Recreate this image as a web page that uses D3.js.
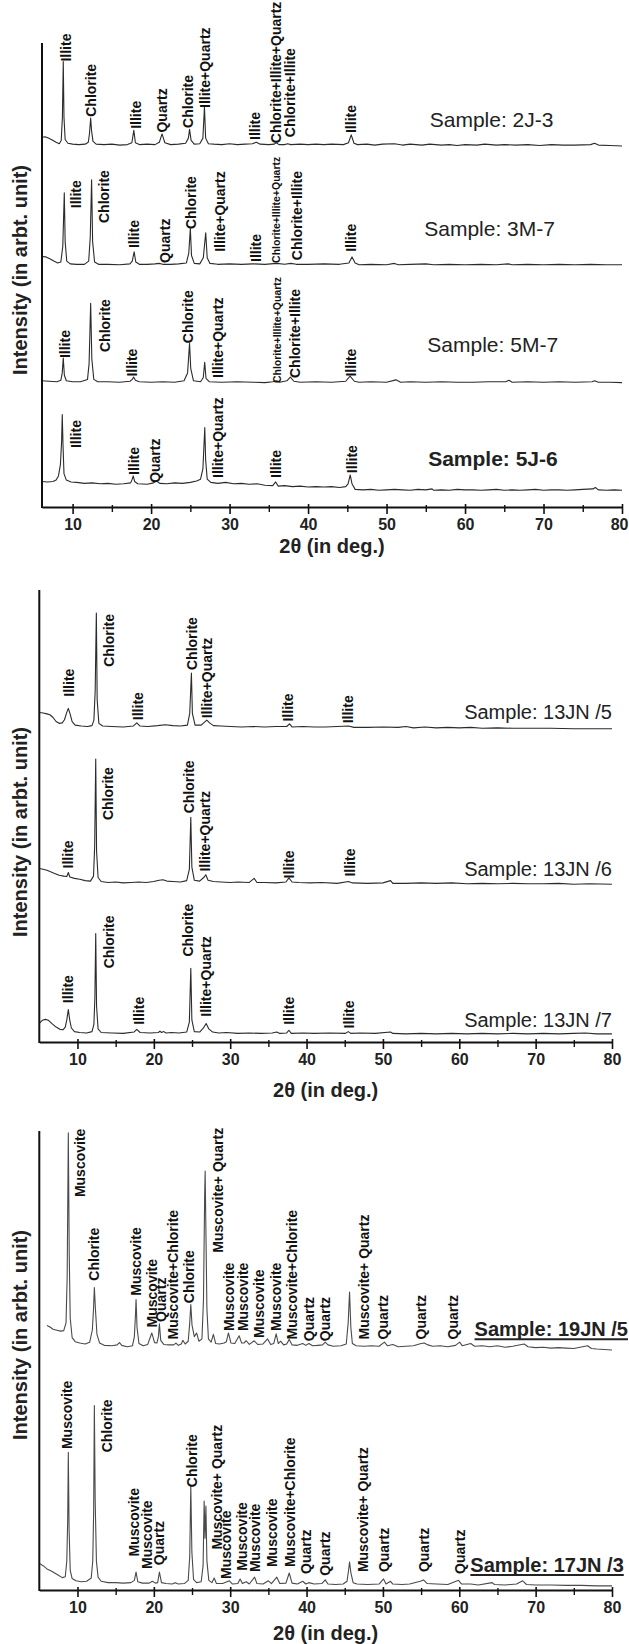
<!DOCTYPE html>
<html>
<head>
<meta charset="utf-8">
<script src="https://cdn.jsdelivr.net/npm/d3@7"></script>
<style>
  body { margin: 0; background: #fff; }
  svg { display: block; font-family: "Liberation Sans", Arial, sans-serif; }
</style>
</head>
<body>
<svg id="chart" width="629" height="1644"></svg>
<script>
// ---- data: [2theta, intensity above the trace baseline] ----
var s2J3 = [[6.1,1.7],[6.5,1.8],[6.9,1.5],[7.4,1.1],[7.9,0.6],[8.3,0.3],[8.55,1],[8.7,6],[8.81,18],[8.9,6],[9.05,1.2],[9.4,0.4],[10,0.2],[10.8,0.1],[11.6,0.2],[12,0.6],[12.15,2.5],[12.3,5.8],[12.42,3],[12.6,0.8],[13,0.2],[14,0.1],[15,0.2],[16,0],[17,0.1],[17.55,0.5],[17.8,3.2],[18,0.5],[18.5,0.1],[19.5,0.2],[20.5,0.1],[21.05,0.6],[21.4,2.4],[21.75,0.5],[22.5,0.1],[23.5,0.2],[24.4,0.4],[24.75,1.5],[24.9,3.4],[25.1,1],[25.5,0.2],[26.2,0.3],[26.6,1.5],[26.8,8.2],[26.95,1.5],[27.3,0.3],[28,0.2],[29,0.1],[30,0.3],[31,0.1],[32,0.2],[32.9,0.3],[33.4,0.6],[33.9,0.2],[35,0.1],[35.7,0.2],[35.96,0.5],[36.3,0.1],[37,0.1],[37.4,0.3],[37.8,0.1],[39,0.2],[40,0.1],[41,0.2],[42,0.1],[43,0.2],[44.5,0.1],[45.15,0.5],[45.5,2.2],[45.85,0.4],[46.3,0.1],[47.5,0.2],[48.5,0],[49.5,0.2],[51,0.3],[52,0],[53,0.2],[54.5,0],[55.5,0.2],[57,0],[58,0.1],[59,-0.1],[60,0.1],[61.5,0],[62.5,0.2],[64,0],[65,0.1],[66.5,0],[68,0.1],[69.5,-0.1],[71,0.1],[72.5,0],[74,0],[76,0.1],[76.5,0.4],[77,0],[78.5,-0.1],[80,-0.2]];
var s3M7 = [[6.1,1.8],[6.6,1.7],[7.1,1.3],[7.6,0.8],[8.1,0.4],[8.5,0.6],[8.75,4],[8.94,15.5],[9.05,5],[9.25,0.8],[9.7,0.2],[10.5,0.1],[11.5,0.1],[12.05,0.8],[12.25,6],[12.42,18.3],[12.55,5],[12.8,0.6],[13.3,0.1],[14.5,0.1],[16,0],[17.3,0.2],[17.6,0.8],[17.84,2.8],[18.05,0.6],[18.5,0.1],[19.5,0.1],[20.5,0.2],[21,0.3],[21.5,0.1],[22.5,0.1],[23.5,0.2],[24.5,0.4],[24.8,2.5],[25,7.8],[25.15,2],[25.5,0.3],[26.2,0.2],[26.65,1.5],[26.96,6.9],[27.15,1.5],[27.5,0.3],[28.5,0.1],[30,0.2],[31.5,0.1],[33,0.2],[34.5,0.1],[36,0.3],[37,0.1],[37.8,0.3],[38.5,0.1],[40,0.1],[42,0.2],[44,0.1],[45.2,0.4],[45.6,1.7],[46,0.4],[46.5,0],[48,0.1],[50,0],[51,0.3],[51.5,0],[53,0.1],[55,0.2],[56,0],[58,0.1],[60,0],[62,0.1],[64,0],[65.5,0.2],[66,0],[68,0.1],[70,0],[72,0.1],[74,0],[76,0.1],[78,0],[80,0]];
var s5M7 = [[6.1,0.3],[7,0.2],[8,0.1],[8.5,0.4],[8.68,2],[8.81,5.2],[8.95,1.5],[9.2,0.3],[10,0.1],[11,0.1],[11.9,0.6],[12.1,4],[12.3,17],[12.45,5],[12.7,0.6],[13.2,0.1],[14.5,0.1],[16,0],[17.3,0.2],[17.6,0.6],[17.78,1.1],[18,0.4],[18.5,0.1],[20,0],[21.5,0.1],[23,0],[24.2,0.3],[24.65,2],[24.9,8.4],[25.05,3],[25.4,0.3],[26.3,0.1],[26.65,1],[26.83,4.3],[27,0.8],[27.4,0.1],[29,0],[31,0.1],[33,0],[34.5,-0.1],[35.5,0.1],[36,0.3],[36.4,0],[37.3,0.3],[37.74,1.1],[38.2,0.2],[39,0],[41,0.1],[43,0],[44.8,0.2],[45.35,1.3],[45.9,0.2],[46.5,0],[48,0.1],[50,0],[51.2,0.5],[51.8,0],[53,0.1],[55,0],[57,0.1],[59,0],[61,0],[63,0.1],[65.2,0.1],[65.6,0.4],[66,0],[68,0.1],[70,0],[72,0.1],[74,0],[76.2,0.1],[76.5,0.3],[77,0],[78.5,0],[80,-0.1]];
var s5J6 = [[6.1,0.3],[6.8,0.2],[7.5,0.3],[7.9,0.6],[8.2,1.5],[8.45,4],[8.6,9],[8.68,14.7],[8.78,8],[8.9,2],[9.2,0.6],[9.8,0.2],[10.5,0.1],[11.5,-0.1],[12.5,0],[13.5,-0.2],[14.5,-0.1],[15.5,-0.3],[16.5,-0.2],[17.4,0],[17.6,0.8],[17.72,1.5],[17.9,0.3],[18.3,-0.2],[19.5,-0.3],[20.3,0],[20.69,0.4],[21.1,-0.1],[22,-0.2],[23,0],[24,-0.1],[25,0.1],[25.8,0.4],[26.3,0.8],[26.6,3],[26.84,11.9],[26.95,5],[27.15,0.8],[27.6,0.1],[28.5,-0.1],[29.5,0.1],[30.5,-0.2],[31.5,-0.1],[32.5,-0.3],[33.5,-0.2],[34.5,-0.5],[35.5,-0.6],[35.87,0.2],[36.2,-0.7],[37,-0.6],[38,-0.8],[39,-0.7],[40,-0.9],[41,-0.8],[42,-0.9],[43,-0.8],[44,-1],[44.8,-0.8],[45.1,-0.2],[45.37,1.7],[45.6,-0.2],[46,-1.4],[47,-1.5],[48,-1.4],[49,-1.6],[50,-1.5],[51,-1.4],[52,-1.5],[53,-1.6],[54,-1.4],[55,-1.5],[55.8,-1.3],[56,-1.6],[57,-1.5],[58,-1.6],[59,-1.4],[60,-1.5],[61,-1.5],[62,-1.6],[63,-1.5],[64,-1.4],[65,-1.6],[66,-1.5],[67,-1.6],[68,-1.5],[69,-1.4],[70,-1.6],[71,-1.5],[72,-1.5],[73,-1.6],[74,-1.5],[75,-1.4],[76.3,-1.3],[76.6,-1],[77,-1.5],[78,-1.6],[79,-1.5],[80,-1.6]];

var s13JN5 = [[5,3.2],[5.5,3.1],[6,2.9],[6.4,2.7],[6.8,2.1],[7.2,1.2],[7.6,0.8],[8,0.9],[8.3,1.6],[8.55,3],[8.8,4.1],[9.05,2.8],[9.3,1.2],[9.7,0.4],[10.5,0.2],[11.3,0.1],[11.9,0.3],[12.15,1.5],[12.32,8],[12.47,25.2],[12.58,6],[12.8,0.8],[13.3,0.2],[14.5,0.1],[16,0],[17.3,0.2],[17.77,0.9],[18.2,0.2],[19.2,0.1],[20.5,0.3],[21.5,0.5],[22.5,0.3],[23.5,0.2],[24.4,0.4],[24.7,3],[24.92,11.9],[25.05,3],[25.4,0.4],[26.2,0.4],[26.6,1],[26.94,1.5],[27.3,0.9],[27.8,0.3],[28.8,0.2],[30,0.1],[31.5,0],[33,0.1],[34.5,0],[36,0.1],[37.4,0.1],[37.77,0.7],[38.1,0],[39.5,0.1],[41,0],[42.5,0],[44,0.1],[45.5,0.2],[46.2,-0.1],[48,-0.1],[50,0],[52,-0.1],[53,0.1],[54,-0.2],[55.5,0],[57,-0.2],[58.5,-0.1],[60,-0.2],[61.5,-0.1],[63,-0.3],[65,-0.2],[67,-0.3],[69,-0.3],[72,-0.3],[75,-0.4],[80,-0.4]];
var s13JN6 = [[5,3.2],[5.5,3],[6,2.8],[6.4,2.5],[7,2.1],[7.6,1.7],[8.2,1.5],[8.6,1.4],[8.8,2.3],[9,1.3],[9.6,1],[10.3,0.8],[11,0.5],[11.7,0.4],[12.1,1.5],[12.25,8],[12.39,27.4],[12.5,7],[12.7,1.2],[13.1,0.3],[14,0.1],[15,0.2],[16,0],[17,0.1],[18,0.2],[19,0.1],[20,0.3],[20.7,0.6],[21.2,0.7],[21.7,0.4],[22.5,0.3],[23.5,0.2],[24.3,0.5],[24.65,3],[24.84,14.5],[24.98,3.5],[25.3,0.6],[26,0.4],[26.6,1.3],[26.8,1.8],[27.1,0.6],[27.8,0.3],[28.8,0.2],[30,0.1],[31,0.2],[32.5,0.1],[33.14,1],[33.5,0.1],[34.5,0.1],[36,0],[37.3,0.2],[37.69,1.1],[38.1,0.2],[39,0.1],[40.5,0],[42,0.1],[44,-0.1],[45.5,0.3],[46,0],[48,-0.1],[50,0],[51,0.5],[51.3,-0.1],[53,-0.1],[55,0],[57,-0.1],[59,0],[61,-0.2],[63,-0.1],[65,-0.2],[67,-0.1],[69,-0.2],[71,-0.2],[73,-0.1],[75,-0.3],[77,-0.2],[80,-0.3]];
var s13JN7 = [[5,2.2],[5.4,2.9],[5.8,3.1],[6.2,2.9],[6.7,2.1],[7.2,1.4],[7.7,0.9],[8.1,0.8],[8.4,1.4],[8.6,3],[8.8,5.3],[8.98,3],[9.2,1.2],[9.6,0.4],[10.3,0.2],[11.2,0.1],[11.9,0.4],[12.15,2],[12.28,8],[12.39,22.1],[12.5,6],[12.7,1],[13.1,0.2],[14.5,0.1],[16,0],[17.4,0.3],[17.77,0.9],[18.2,0.2],[19.5,0.1],[20.6,0.2],[20.8,0.5],[21,0.2],[21.3,0.4],[21.6,0.1],[22.3,0.2],[23.3,0.1],[24.3,0.3],[24.65,2.5],[24.84,14.4],[24.98,3],[25.3,0.4],[26,0.3],[26.5,1.2],[26.85,2.2],[27.2,1],[27.7,0.3],[28.5,0.1],[29.5,0.2],[31,0],[32.5,0.1],[34,0],[35.5,0.1],[36.1,0.3],[36.5,0],[37.4,0.1],[37.69,0.7],[38,0],[39.5,0.1],[41,0],[43,0.1],[45.1,0],[45.46,0.4],[45.8,0],[47,0.1],[49,0],[51,0.3],[51.3,0],[53,-0.1],[55,0],[57,-0.1],[59,0],[61,-0.1],[63,0],[65,-0.1],[67,0],[69,-0.1],[71,0],[73,-0.1],[75,0],[76.5,0.1],[78,-0.1],[80,-0.1]];

var s19JN5 = [[6,4.4],[6.4,4.1],[6.8,3.6],[7.3,3.4],[7.8,3.2],[8.2,3.3],[8.5,5],[8.65,15],[8.8,46.4],[8.92,20],[9.05,6],[9.3,1.8],[9.7,0.9],[10.3,0.6],[11,0.4],[11.6,0.8],[11.95,3.5],[12.1,8],[12.21,12.7],[12.35,8],[12.55,2.5],[12.9,0.6],[13.5,0.1],[14.5,0],[15.2,0.2],[15.5,0.7],[15.8,0.1],[16.5,-0.2],[17.2,0],[17.45,2],[17.6,7],[17.67,10.1],[17.8,4],[18.05,0.5],[18.6,0],[19.2,0.3],[19.73,2.8],[20.1,0.7],[20.4,0.6],[20.6,2],[20.73,4.8],[20.9,1.2],[21.3,0.3],[22,0.2],[22.6,0.2],[22.9,0.6],[23.2,0.1],[23.6,0.4],[23.8,1.2],[24.1,0.4],[24.5,1],[24.7,5],[24.84,9],[25,4.5],[25.3,2],[25.6,2.8],[25.9,1],[26.3,1.5],[26.5,10],[26.65,32],[26.72,38.1],[26.82,25],[26.95,8],[27.15,1.5],[27.5,0.8],[27.8,2.5],[28.1,0.5],[28.6,0.4],[29.2,0.6],[29.5,0.9],[29.77,2.8],[30.1,0.6],[30.6,0.5],[31.17,2.2],[31.5,0.6],[31.8,0.6],[32.1,1.1],[32.5,0.3],[33.14,1.1],[33.6,0.3],[34.3,0.4],[34.9,1.5],[35.3,0.3],[35.7,0.5],[36.02,2.6],[36.3,0.5],[36.6,1],[37,0.2],[37.4,0.4],[37.73,1.4],[38.1,0.2],[38.8,0.1],[39.5,0.5],[39.9,0.1],[40.3,0.5],[40.8,0],[41.5,0.1],[42.1,0.2],[42.44,0.8],[42.8,0.2],[43.5,-0.1],[44.5,0],[45.2,0.4],[45.45,5],[45.63,11.7],[45.8,4],[46,0.5],[46.5,0],[47.5,-0.1],[48.5,0],[49.5,-0.1],[50.2,0.8],[50.6,0],[51.3,0.3],[52,-0.2],[53,-0.1],[54,0],[55,0.5],[55.4,0.6],[55.9,0.2],[56.5,-0.1],[57.5,0],[58.5,-0.2],[59.5,0.1],[60.05,0.8],[60.4,0],[61.5,0.5],[62,-0.1],[63,0],[64,-0.2],[65,0],[66,-0.3],[67,-0.1],[68.5,0.4],[69,-0.2],[70,-0.4],[71,-0.3],[72,-0.5],[73,-0.4],[74,-0.5],[75,-0.6],[76.8,0],[77.3,-0.6],[78,-0.7],[79,-0.8],[80,-0.9]];
var s17JN3 = [[5,4.5],[5.5,4],[6,3.3],[6.5,2.9],[7,2.4],[7.5,1.9],[8,1.4],[8.4,1.6],[8.6,5],[8.72,14],[8.8,28.7],[8.9,12],[9.05,3],[9.3,1.2],[9.8,0.7],[10.5,0.5],[11.2,0.6],[11.8,1.3],[12,5],[12.12,16],[12.21,38.9],[12.32,18],[12.48,5],[12.7,1.5],[13.1,0.6],[14,0.3],[15,0.3],[16,0.2],[17,0.3],[17.45,0.8],[17.67,2.6],[17.9,0.5],[18.5,0.2],[19.4,0.2],[19.8,0.6],[20.2,0.2],[20.5,0.3],[20.73,2.6],[21,0.3],[21.6,0.1],[22.4,0],[22.8,0.3],[23.2,0],[24,0.1],[24.5,0.8],[24.7,6],[24.84,21.4],[24.98,7],[25.2,1],[25.6,0.3],[26.2,0.5],[26.45,4],[26.59,18.1],[26.7,10],[26.82,17],[26.95,5],[27.2,0.8],[27.6,0.3],[27.9,1.3],[28.2,0.1],[29,0.1],[29.9,0.7],[30.3,0],[31,0.1],[31.3,1.1],[31.6,0.1],[32.1,0.5],[32.5,0],[33.2,1.5],[33.5,0.1],[34.3,0],[35,0.7],[35.4,0.1],[36.1,1.5],[36.5,0.1],[37.3,0.2],[37.73,2.4],[38.1,0.2],[38.8,0],[39.5,0.6],[39.9,0],[40.3,0.3],[41,0],[42,0.1],[42.44,0.9],[42.8,0],[43.8,-0.1],[44.8,0],[45.3,0.6],[45.5,3],[45.63,4.8],[45.8,2.5],[46.1,0.3],[46.6,0],[48,-0.1],[49.5,0],[50.08,1.1],[50.4,0],[51,0.6],[51.3,0],[52.5,-0.1],[53.5,0],[54.9,0.6],[55.32,0.9],[55.8,0.1],[57,0],[58.5,-0.1],[59.9,0.8],[60.3,0],[61.5,0],[62.5,-0.2],[64.3,0.3],[64.6,-0.1],[66,-0.2],[67.5,0],[68.3,0.7],[68.8,-0.1],[70,-0.2],[72,-0.2],[74,-0.3],[76,-0.3],[78,-0.4],[80,-0.4]];

// stacking offsets of each trace (intensity, a.u.)
var off1 = [78.0, 52.2, 26.9, 5.2];
var off2 = [69.7, 35.2, 1.9];
var off3 = [53.2, 1.3];

// phase labels: [2theta, intensity where the label starts, text, small]
var lab2J3 = [[9.1,96,"Illite"],[12.3,84.1,"Chlorite"],[18.06,81.5,"Illite"],[21.4,80.7,"Quartz"],[24.64,81.7,"Chlorite"],[26.84,86,"Illite+Quartz"],[33.2,79.1,"Illite"],[35.96,78.4,"Chlorite+Illite+Quartz"],[37.74,79.7,"Chlorite+Illite"],[45.5,80.6,"Illite"]];
var lab3M7 = [[10.43,64.4,"Illite"],[14.03,61.2,"Chlorite"],[17.84,55.8,"Illite"],[21.75,52.6,"Quartz"],[25.02,59.9,"Chlorite"],[28.75,55,"Illite+Quartz"],[33.33,52.8,"Illite"],[35.96,52.6,"Chlorite+Illite+Quartz",1],[38.63,53.2,"Chlorite+Illite"],[45.5,55,"Illite"]];
var lab5M7 = [[9.03,32.1,"Illite"],[14.1,33.4,"Chlorite"],[17.59,28.1,"Illite"],[24.71,35.3,"Chlorite"],[28.53,27.8,"Illite+Quartz"],[36.12,26.7,"Chlorite+Illite+Quartz",1],[38.29,27.8,"Chlorite+Illite"],[45.5,28.1,"Illite"]];
var lab5J6 = [[10.39,12.7,"Illite"],[17.8,6.9,"Illite"],[20.48,5.2,"Quartz"],[28.53,6.25,"Illite+Quartz"],[35.96,6.25,"Illite"],[45.63,7.3,"Illite"]];
var lab13JN5 = [[8.89,76.4,"Illite"],[14.17,83,"Chlorite"],[17.97,71.2,"Illite"],[24.97,82.3,"Chlorite"],[27.02,71.6,"Illite+Quartz"],[37.5,70.9,"Illite"],[45.37,70.5,"Illite"]];
var lab13JN6 = [[8.8,38.4,"Illite"],[14.04,49.1,"Chlorite"],[24.62,50.6,"Chlorite"],[26.63,37.7,"Illite+Quartz"],[37.69,36.2,"Illite"],[45.63,36.6,"Illite"]];
var lab13JN7 = [[8.8,8.6,"Illite"],[14.14,16.3,"Chlorite"],[18.1,3.8,"Illite"],[24.53,18.9,"Chlorite"],[26.81,5.6,"Illite+Quartz"],[37.69,3.8,"Illite"],[45.55,3,"Illite"]];
var lab19JN5 = [[10.33,85.6,"Muscovite"],[12.21,67.4,"Chlorite"],[17.67,64.1,"Muscovite"],[19.73,57.2,"Muscovite"],[20.91,58.4,"Quartz"],[22.48,54.6,"Muscovite+Chlorite"],[24.66,62.5,"Chlorite"],[28.46,73.5,"Muscovite+ Quartz"],[29.9,56.4,"Muscovite"],[31.66,56.4,"Muscovite"],[33.7,54.9,"Muscovite"],[36.02,56.4,"Muscovite"],[38.08,54.6,"Muscovite+Chlorite"],[40.26,54.2,"Quartz"],[42.44,54.2,"Quartz"],[47.46,54.6,"Muscovite+ Quartz"],[50,54.6,"Quartz"],[54.99,54.6,"Quartz"],[59.18,54.6,"Quartz"]];
var lab17JN3 = [[8.59,30.7,"Muscovite"],[13.91,30,"Chlorite"],[17.45,7.3,"Muscovite"],[19.08,4.6,"Muscovite"],[20.73,5.4,"Quartz"],[24.97,22.4,"Chlorite"],[28.25,8.8,"Muscovite+ Quartz"],[29.47,2.4,"Muscovite"],[31.53,4.2,"Muscovite"],[33.27,3.9,"Muscovite"],[35.46,5,"Muscovite"],[37.77,5,"Muscovite+Chlorite"],[39.95,3.5,"Quartz"],[42.44,3.1,"Quartz"],[47.38,3.9,"Muscovite+ Quartz"],[50.08,3.9,"Quartz"],[55.32,3.9,"Quartz"],[60.04,3.5,"Quartz"]];

// sample names: [2theta, intensity, text, bold]
var tags1 = [[55.5,81.9,"Sample: 2J-3",0],[54.8,58.5,"Sample: 3M-7",0],[55.2,33.3,"Sample: 5M-7",0],[55.3,8.9,"Sample: 5J-6",1]];
var tags2 = [[80,71.5,"Sample: 13JN /5",0],[80,36.7,"Sample: 13JN /6",0],[80,3.3,"Sample: 13JN /7",0]];
var tags3 = [[62,55.3,"Sample: 19JN /5",1],[61.45,3.9,"Sample: 17JN /3",1]];

var majorTicks = [10, 20, 30, 40, 50, 60, 70, 80];
var minorTicks = [15, 25, 35, 45, 55, 65, 75];
var xTitle = "2\u03b8 (in deg.)";
var yTitle = "Intensity (in arbt. unit)";

// ---- layout ----
var W = 629;
var svg = d3.select("#chart");

var panels = [
  {l: 42, r: 622, t: 43, b: 507, dom: [6.1, 80], traces: [s2J3, s3M7, s5M7, s5J6], offs: off1,
   labels: [lab2J3, lab3M7, lab5M7, lab5J6], tags: tags1, tagSize: 21, tagAnchor: "start", underline: false,
   color: "#2b2b2b", yMid: 270, xTitleY: 553},
  {l: 39.3, r: 612, t: 590, b: 1042, dom: [5, 80], traces: [s13JN5, s13JN6, s13JN7], offs: off2,
   labels: [lab13JN5, lab13JN6, lab13JN7], tags: tags2, tagSize: 20, tagAnchor: "end", underline: false,
   color: "#2b2b2b", yMid: 832, xTitleY: 1097},
  {l: 39.3, r: 612, t: 1131, b: 1590, dom: [5, 80], traces: [s19JN5, s17JN3], offs: off3,
   labels: [lab19JN5, lab17JN3], tags: tags3, tagSize: 20, tagAnchor: "start", underline: true,
   color: "#4a4a4a", yMid: 1335, xTitleY: 1640}
];

panels.forEach(function(p) {
  var x = d3.scaleLinear().domain(p.dom).range([p.l, p.r]);
  var y = d3.scaleLinear().domain([0, 100]).range([p.b, p.t]);
  var g = svg.append("g");

  // traces
  p.traces.forEach(function(tr, i) {
    var off = p.offs[i];
    g.append("path").datum(tr)
      .attr("fill", "none")
      .attr("stroke", p.color)
      .attr("stroke-width", 1.1)
      .attr("stroke-linejoin", "round")
      .attr("d", d3.line()
        .x(function(d) { return x(d[0]); })
        .y(function(d) { return y(d[1] + off); }));
  });

  // phase labels
  p.labels.forEach(function(list) {
    g.selectAll(null).data(list).enter().append("text")
      .attr("transform", function(d) { return "translate(" + x(d[0]) + "," + y(d[1]) + ") rotate(-90)"; })
      .attr("dy", "0.36em")
      .attr("font-size", function(d) { return d[3] ? 10.5 : 14; })
      .attr("font-weight", "bold")
      .attr("fill", "#111")
      .text(function(d) { return d[2]; });
  });

  // sample names
  var tags = g.selectAll(null).data(p.tags).enter().append("text")
    .attr("x", function(d) { return x(d[0]); })
    .attr("y", function(d) { return y(d[1]); })
    .attr("text-anchor", p.tagAnchor)
    .attr("font-size", p.tagSize)
    .attr("font-weight", function(d) { return d[3] ? "bold" : "normal"; })
    .attr("fill", "#222")
    .text(function(d) { return d[2]; });
  if (p.underline) {
    tags.each(function(d) {
      var w = this.getComputedTextLength();
      g.append("line")
        .attr("x1", x(d[0])).attr("x2", x(d[0]) + w)
        .attr("y1", y(d[1]) + 3).attr("y2", y(d[1]) + 3)
        .attr("stroke", "#222").attr("stroke-width", 2);
    });
  }

  // x axis
  var ax = g.append("g").attr("transform", "translate(0," + p.b + ")")
    .call(d3.axisBottom(x).tickValues(majorTicks).tickSize(7).tickSizeOuter(0).tickPadding(5)
      .tickFormat(d3.format("d")));
  ax.select(".domain").attr("stroke", "#111").attr("stroke-width", 2);
  ax.selectAll(".tick line").attr("y1", -3).attr("stroke", "#111").attr("stroke-width", 1.6);
  ax.selectAll(".tick text").attr("font-size", 16).attr("font-weight", "bold")
    .attr("fill", "#222").attr("font-family", "Liberation Sans, Arial, sans-serif")
    .each(function(d) {
      // keep the last label inside the page
      var t = d3.select(this), w = this.getComputedTextLength();
      if (x(d) + w / 2 > W - 1) t.attr("text-anchor", "end").attr("x", W - 1 - x(d));
    });

  var mx = g.append("g").attr("transform", "translate(0," + p.b + ")")
    .call(d3.axisBottom(x).tickValues(minorTicks).tickSize(5).tickSizeOuter(0).tickFormat(""));
  mx.select(".domain").remove();
  mx.selectAll(".tick line").attr("y1", -2).attr("stroke", "#111").attr("stroke-width", 1.4);

  // y axis line
  g.append("line")
    .attr("x1", p.l).attr("x2", p.l).attr("y1", p.t).attr("y2", p.b + 1)
    .attr("stroke", "#111").attr("stroke-width", 2);

  // titles
  g.append("text")
    .attr("x", (p.l + p.r) / 2).attr("y", p.xTitleY)
    .attr("text-anchor", "middle").attr("font-size", 20).attr("font-weight", "bold")
    .attr("fill", "#222").text(xTitle);
  g.append("text")
    .attr("transform", "translate(20," + p.yMid + ") rotate(-90)")
    .attr("dy", "0.36em").attr("text-anchor", "middle")
    .attr("font-size", 20).attr("font-weight", "bold").attr("fill", "#222").text(yTitle);
});
</script>
</body>
</html>
